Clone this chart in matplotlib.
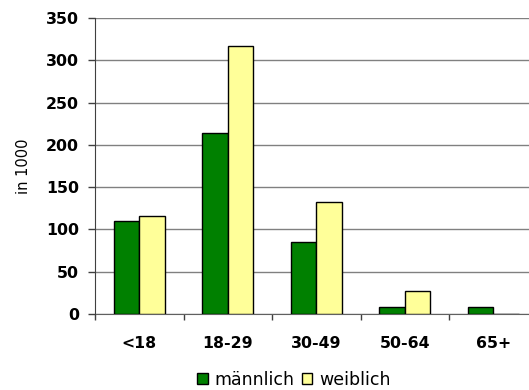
import matplotlib
matplotlib.use("Agg")
import matplotlib.pyplot as plt
import numpy as np
from matplotlib.patches import Patch

categories = ["<18", "18-29", "30-49", "50-64", "65+"]
maennlich = [110, 214, 85, 8, 8]
weiblich = [116, 317, 133, 27, 0]
yticks = [0, 50, 100, 150, 200, 250, 300, 350]

plt.rcParams["font.family"] = ["DejaVu Sans"]

fig = plt.figure(figsize=(5.29, 3.90), dpi=100)
ax = fig.add_axes([95 / 529, 1 - 314 / 390, 5 * 88.5 / 529, 296 / 390])

x = np.arange(len(categories))
w = 0.29
green = "#008000"
yellow = "#FFFF99"
ax.bar(x - w / 2, maennlich, width=w, color=green, edgecolor="black", linewidth=1, zorder=3)
ax.bar(x + w / 2, weiblich, width=w, color=yellow, edgecolor="black", linewidth=1, zorder=3)

ax.set_xlim(-0.5, len(categories) - 0.5)
ax.set_ylim(0, 350)
ax.set_yticks(yticks)
ax.set_yticklabels([str(v) for v in yticks], fontsize=11.3, fontweight="bold")
ax.yaxis.grid(True, color="#808080", linewidth=1, zorder=0)

# category labels centred, tick marks on the category boundaries
ax.set_xticks(np.arange(-0.5, len(categories), 1.0))
ax.set_xticklabels([])
ax.set_xticks(x, minor=True)
ax.set_xticklabels(categories, minor=True, fontsize=11.3, fontweight="bold")
ax.tick_params(axis="x", which="minor", length=0, pad=16)
ax.tick_params(axis="x", which="major", length=4.3, width=1, color="#404040")
ax.tick_params(axis="y", length=5, width=1, color="#404040", pad=6.5)

for s in ["top", "right"]:
    ax.spines[s].set_visible(False)
ax.spines["left"].set_color("#404040")
ax.spines["bottom"].set_color("#606060")
ax.spines["left"].set_zorder(4)

ax.set_ylabel("in 1000", fontsize=10.5)
ax.yaxis.set_label_coords(-(95 - 31) / (5 * 88.5), 0.5)

handles = [Patch(facecolor=green, edgecolor="black", linewidth=1),
           Patch(facecolor=yellow, edgecolor="black", linewidth=1)]
fig.legend(handles, ["männlich", "weiblich"], loc="center", bbox_to_anchor=(294 / 529, 1 - 380 / 390),
           ncol=2, frameon=False, fontsize=12.5, handlelength=0.6, handleheight=0.6,
           handletextpad=0.4, columnspacing=0.4)

fig.savefig("out.png", dpi=100)
